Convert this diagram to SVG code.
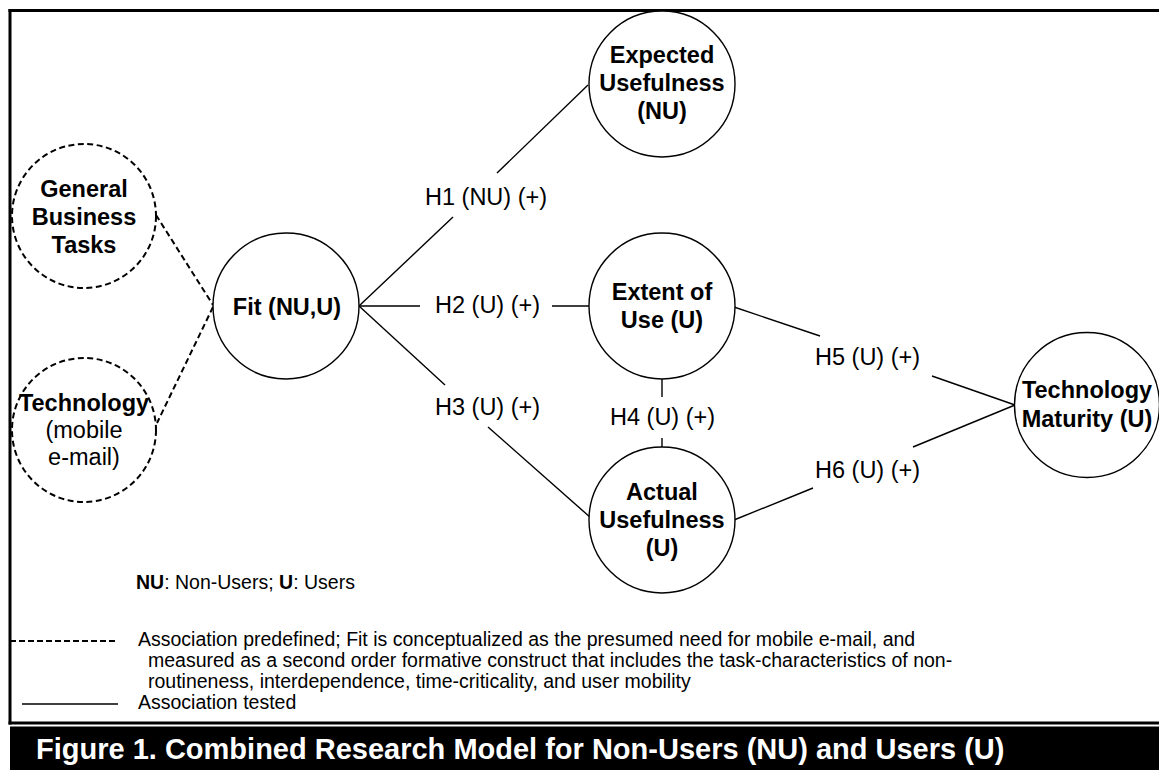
<svg xmlns="http://www.w3.org/2000/svg" width="1159" height="770" viewBox="0 0 1159 770">
<style>
.node{fill:#fff;stroke:#000;stroke-width:1.4}
.dnode{fill:#fff;stroke:#000;stroke-width:2;stroke-dasharray:6 3.5}
.t{font-family:"Liberation Sans",Arial,sans-serif;font-size:23.5px;fill:#000;text-anchor:middle}
.b{font-weight:bold}
.lab{font-family:"Liberation Sans",Arial,sans-serif;font-size:23.5px;fill:#000}
.leg{font-family:"Liberation Sans",Arial,sans-serif;font-size:19.5px;fill:#000}
.c{stroke:#000;stroke-width:1.4;fill:none}
.d{stroke:#000;stroke-width:2;stroke-dasharray:6 3.5;fill:none}
</style>
<rect x="0" y="0" width="1159" height="770" fill="#fff"/>
<!-- frame -->
<g id="frame" stroke="#000" stroke-width="3" fill="none">
<line x1="8.5" y1="10.5" x2="1159" y2="10.5"/>
<line x1="10" y1="9" x2="10" y2="724.5"/>
<line x1="8.5" y1="723" x2="1159" y2="723"/>
</g>
<g id="connectors">
<line class="d" x1="156" y1="215" x2="213" y2="305"/>
<line class="d" x1="213" y1="307" x2="157" y2="423"/>
<line class="c" x1="359" y1="306" x2="453" y2="217"/>
<line class="c" x1="497" y1="173" x2="588" y2="85"/>
<line class="c" x1="359" y1="306" x2="420" y2="306"/>
<line class="c" x1="552" y1="306" x2="589" y2="306"/>
<line class="c" x1="359" y1="306" x2="445" y2="385"/>
<line class="c" x1="488" y1="427" x2="591" y2="518"/>
<line class="c" x1="662" y1="379" x2="662" y2="397"/>
<line class="c" x1="662" y1="438" x2="662" y2="447"/>
<line class="c" x1="734" y1="307" x2="820" y2="336"/>
<line class="c" x1="932" y1="376" x2="1015" y2="405"/>
<line class="c" x1="1015" y1="405" x2="913" y2="447"/>
<line class="c" x1="813" y1="488" x2="734" y2="520"/>
</g>
<g id="labels">
<text class="lab" x="425" y="205">H1 (NU) (+)</text>
<text class="lab" x="435" y="313">H2 (U) (+)</text>
<text class="lab" x="435" y="415">H3 (U) (+)</text>
<text class="lab" x="610" y="425">H4 (U) (+)</text>
<text class="lab" x="815" y="365">H5 (U) (+)</text>
<text class="lab" x="815" y="478">H6 (U) (+)</text>
</g>
<g id="general-business-tasks">
<circle class="dnode" cx="84" cy="216" r="72"/>
<text class="t b" x="84" y="197">General</text>
<text class="t b" x="84" y="225">Business</text>
<text class="t b" x="84" y="253">Tasks</text>
</g>
<g id="technology">
<circle class="dnode" cx="84" cy="430" r="72"/>
<text class="t b" x="84" y="411">Technology</text>
<text class="t" x="84" y="438">(mobile</text>
<text class="t" x="84" y="465">e-mail)</text>
</g>
<g id="fit">
<circle class="node" cx="286" cy="306" r="73"/>
<text class="t b" x="287" y="315">Fit (NU,U)</text>
</g>
<g id="expected-usefulness">
<circle class="node" cx="662" cy="84" r="73"/>
<text class="t b" x="662" y="63">Expected</text>
<text class="t b" x="662" y="91">Usefulness</text>
<text class="t b" x="662" y="119">(NU)</text>
</g>
<g id="extent-of-use">
<circle class="node" cx="662" cy="306" r="73"/>
<text class="t b" x="662" y="300">Extent of</text>
<text class="t b" x="662" y="328">Use (U)</text>
</g>
<g id="actual-usefulness">
<circle class="node" cx="662" cy="520" r="73"/>
<text class="t b" x="662" y="500">Actual</text>
<text class="t b" x="662" y="528">Usefulness</text>
<text class="t b" x="662" y="556">(U)</text>
</g>
<g id="technology-maturity">
<circle class="node" cx="1087" cy="405" r="72.5"/>
<text class="t b" x="1087" y="398">Technology</text>
<text class="t b" x="1087" y="427">Maturity (U)</text>
</g>
<g id="legend">
<text class="leg" x="136" y="589"><tspan font-weight="bold">NU</tspan>: Non-Users; <tspan font-weight="bold">U</tspan>: Users</text>
<line x1="10" y1="641" x2="117" y2="641" stroke="#000" stroke-width="2" stroke-dasharray="6 3"/>
<text class="leg" x="138" y="646">Association predefined; Fit is conceptualized as the presumed need for mobile e-mail, and</text>
<text class="leg" x="148" y="667">measured as a second order formative construct that includes the task-characteristics of non-</text>
<text class="leg" x="148" y="688">routineness, interdependence, time-criticality, and user mobility</text>
<line x1="22" y1="704" x2="118" y2="704" stroke="#000" stroke-width="1.5"/>
<text class="leg" x="138" y="709">Association tested</text>
</g>
<g id="caption">
<rect x="10" y="726.5" width="1149" height="43.5" fill="#000"/>
<text x="36" y="758.5" font-family="'Liberation Sans',Arial,sans-serif" font-size="29" font-weight="bold" fill="#fff">Figure 1. Combined Research Model for Non-Users (NU) and Users (U)</text>
</g>
</svg>
